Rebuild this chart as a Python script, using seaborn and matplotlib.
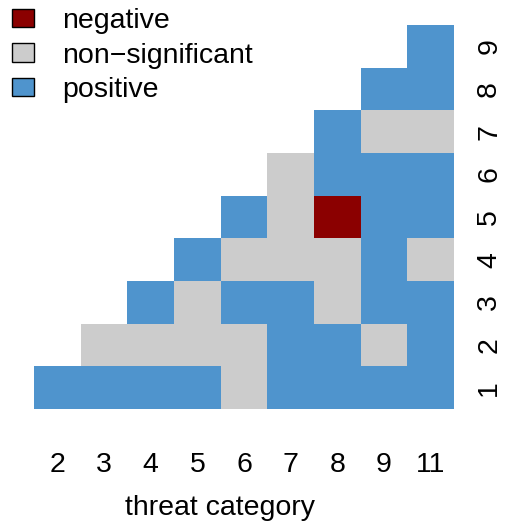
import numpy as np
import pandas as pd
import matplotlib
matplotlib.use("Agg")
import matplotlib.pyplot as plt
from matplotlib.colors import ListedColormap
from matplotlib.patches import Patch
import seaborn as sns

# categorias de amenaza (eje x) y niveles (eje y)
threats = ["2", "3", "4", "5", "6", "7", "8", "9", "11"]
levels = ["1", "2", "3", "4", "5", "6", "7", "8", "9"]

# 0 = negative, 1 = non-significant, 2 = positive, nan = vacio
n = np.nan
row1 = [2, 2, 2, 2, 1, 2, 2, 2, 2]
row2 = [n, 1, 1, 1, 1, 2, 2, 1, 2]
row3 = [n, n, 2, 1, 2, 2, 1, 2, 2]
row4 = [n, n, n, 2, 1, 1, 1, 2, 1]
row5 = [n, n, n, n, 2, 1, 0, 2, 2]
row6 = [n, n, n, n, n, 1, 2, 2, 2]
row7 = [n, n, n, n, n, n, 2, 1, 1]
row8 = [n, n, n, n, n, n, n, 2, 2]
row9 = [n, n, n, n, n, n, n, n, 2]

labels = ["negative", "non\u2212significant", "positive"]
colors = ["#8B0000", "#CCCCCC", "#4F94CD"]

df = pd.DataFrame([row1, row2, row3, row4, row5, row6, row7, row8, row9],
                  index=levels, columns=threats)
df = df.iloc[::-1]  # nivel 9 arriba

plt.rcParams["font.family"] = ["Liberation Sans", "DejaVu Sans"]
fs = 20.5

fig = plt.figure(figsize=(5.19, 5.21), dpi=100)
ax = fig.add_axes([0.0655, 0.215, 0.8093, 0.737])

sns.heatmap(df, ax=ax, cmap=ListedColormap(colors), vmin=-0.5, vmax=2.5,
            cbar=False, mask=df.isna(), linewidths=0)

ax.yaxis.tick_right()
ax.tick_params(axis="both", length=0, labelsize=fs)
ax.tick_params(axis="x", pad=31)
ax.tick_params(axis="y", pad=16)
plt.setp(ax.get_yticklabels(), rotation=90, va="center")
plt.setp(ax.get_xticklabels(), rotation=0)
ax.set_xlabel("threat category", fontsize=fs, labelpad=12, x=0.443)
ax.set_ylabel("")

handles = [Patch(facecolor=c, edgecolor="black", linewidth=1) for c in colors]
fig.legend(handles=handles, labels=labels, loc="upper left",
           bbox_to_anchor=(-0.004, 1.012), frameon=False, fontsize=fs,
           handlelength=0.75, handleheight=0.6, handletextpad=1.0,
           labelspacing=0.3, borderaxespad=0.1)

fig.savefig("out.png", dpi=100)
